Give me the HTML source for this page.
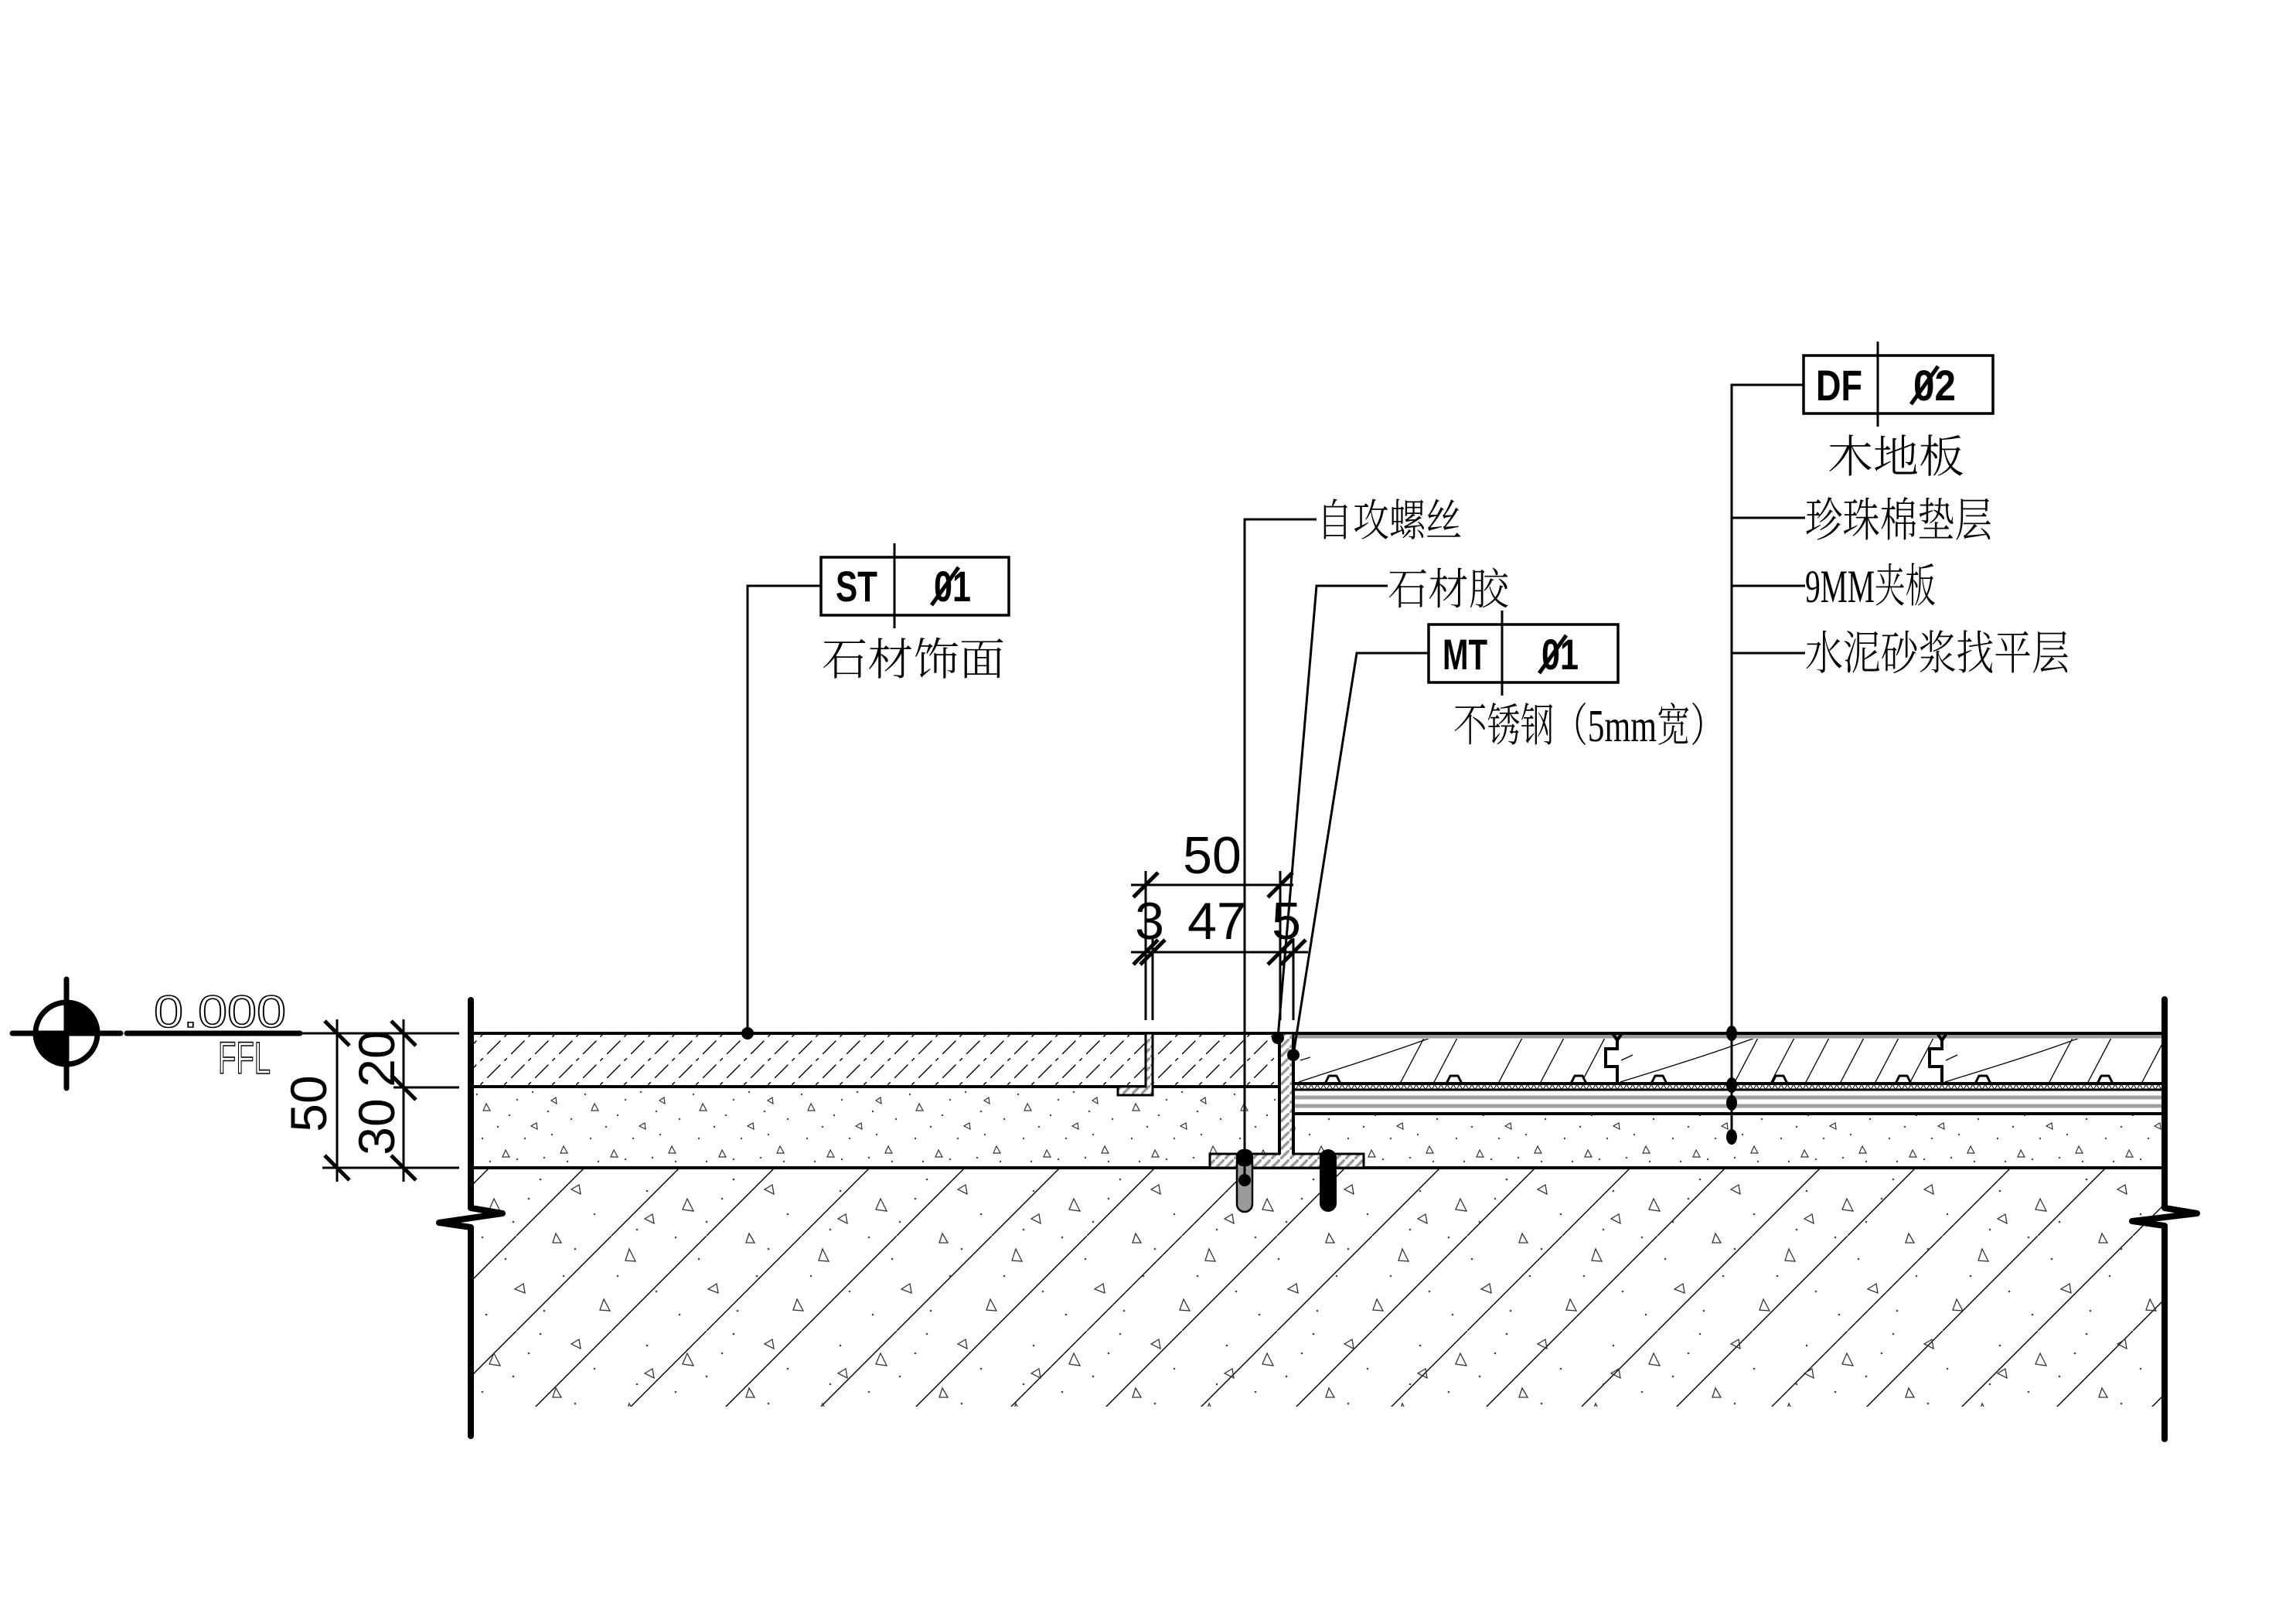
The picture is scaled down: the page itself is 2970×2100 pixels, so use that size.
<!DOCTYPE html>
<html><head><meta charset="utf-8">
<style>
html,body{margin:0;padding:0;background:#fff;}
svg{display:block;}
.cn{font-family:"Liberation Serif","Noto Serif CJK SC",serif;font-weight:300;}
.bx{font-family:"Liberation Sans",sans-serif;font-weight:bold;}
.dm{font-family:"Liberation Sans",sans-serif;}
</style></head><body>
<svg width="2970" height="2100" viewBox="0 0 2970 2100" xmlns="http://www.w3.org/2000/svg">
<defs>
<pattern id="stone" patternUnits="userSpaceOnUse" x="10" y="0" width="31" height="31">
 <line x1="-1" y1="32" x2="32" y2="-1" stroke="#000" stroke-width="1.4" stroke-dasharray="26 7 5 7"/>
</pattern>
<pattern id="base" patternUnits="userSpaceOnUse" x="53" y="0" width="123" height="123">
 <line x1="-1" y1="124" x2="124" y2="-1" stroke="#000" stroke-width="1.4"/>
</pattern>
<pattern id="tri" patternUnits="userSpaceOnUse" x="609" y="1511" width="250" height="200">
 <g fill="none" stroke="#333" stroke-width="1.3">
  <path d="M30,40 l-6,14 l14,2 z"/>
  <path d="M140,22 l-10,6 l12,6 z"/>
  <path d="M205,105 l-5,15 l13,1 z"/>
  <path d="M68,150 l-11,7 l13,5 z"/>
  <path d="M172,170 l-5,14 l13,1 z"/>
  <path d="M110,85 l-4,12 l11,0 z"/>
  <path d="M235,60 l-10,6 l12,6 z"/>
 </g>
 <g fill="#444">
  <circle cx="15" cy="90" r="1.3"/><circle cx="55" cy="70" r="1.3"/><circle cx="90" cy="15" r="1.3"/>
  <circle cx="120" cy="140" r="1.3"/><circle cx="160" cy="60" r="1.3"/><circle cx="228" cy="30" r="1.3"/>
  <circle cx="240" cy="160" r="1.3"/><circle cx="20" cy="190" r="1.3"/><circle cx="190" cy="140" r="1.3"/>
  <circle cx="95" cy="185" r="1.3"/><circle cx="215" cy="80" r="1.3"/><circle cx="45" cy="118" r="1.3"/>
  <circle cx="135" cy="105" r="1.3"/><circle cx="75" cy="40" r="1.3"/>
 </g>
</pattern>
<pattern id="scr" patternUnits="userSpaceOnUse" x="609" y="1408" width="140" height="100">
 <g fill="none" stroke="#333" stroke-width="1.2">
  <path d="M20,20 l-4,9 l9,0 z"/>
  <path d="M85,45 l-7,4 l8,4 z"/>
  <path d="M45,80 l-4,9 l9,0 z"/>
  <path d="M120,75 l-4,9 l9,0 z"/>
  <path d="M110,12 l-6,4 l7,4 z"/>
 </g>
 <g fill="#444">
  <circle cx="8" cy="8" r="1.2"/><circle cx="35" cy="50" r="1.2"/><circle cx="60" cy="15" r="1.2"/>
  <circle cx="70" cy="65" r="1.2"/><circle cx="95" cy="90" r="1.2"/><circle cx="130" cy="40" r="1.2"/>
  <circle cx="15" cy="65" r="1.2"/><circle cx="100" cy="30" r="1.2"/><circle cx="50" cy="35" r="1.2"/>
  <circle cx="125" cy="95" r="1.2"/><circle cx="25" cy="95" r="1.2"/><circle cx="80" cy="5" r="1.2"/>
  <circle cx="105" cy="60" r="1.2"/><circle cx="60" cy="92" r="1.2"/>
 </g>
</pattern>
<pattern id="gh" patternUnits="userSpaceOnUse" width="12" height="12">
 <rect width="12" height="12" fill="#fff"/>
 <line x1="-1" y1="13" x2="13" y2="-1" stroke="#9a9a9a" stroke-width="3.5"/>
</pattern>
<pattern id="foam" patternUnits="userSpaceOnUse" x="0" y="1403" width="8" height="7">
 <polyline points="0,0 4,7 8,0" fill="none" stroke="#000" stroke-width="1"/>
</pattern>
<clipPath id="woodclip"><rect x="1673" y="1344" width="1127" height="58"/></clipPath>
</defs>

<!-- base concrete -->
<rect x="609" y="1511" width="2191" height="309" fill="url(#base)"/>
<rect x="609" y="1511" width="2191" height="309" fill="url(#tri)"/>
<!-- screed -->
<rect x="609" y="1407" width="2191" height="104" fill="url(#scr)"/>
<!-- stone -->
<rect x="609" y="1337" width="1046" height="69" fill="url(#stone)"/>
<!-- wood area -->
<rect x="1673" y="1337" width="1127" height="104" fill="#fff"/>
<g clip-path="url(#woodclip)" fill="none" stroke="#000" stroke-width="1.3">
 <path d="M1680,1400 C1740,1380 1790,1365 1850,1343"/>
 <line x1="1811" y1="1402" x2="1842" y2="1343"/>
 <line x1="1854" y1="1402" x2="1885" y2="1343"/>
 <line x1="1938" y1="1402" x2="1969" y2="1343"/>
 <line x1="1992" y1="1402" x2="2023" y2="1343"/>
 <line x1="2045" y1="1402" x2="2076" y2="1343"/>
 <path d="M2096,1400 C2160,1380 2210,1365 2270,1343"/>
 <line x1="2243" y1="1402" x2="2274" y2="1343"/>
 <line x1="2290" y1="1402" x2="2321" y2="1343"/>
 <line x1="2335" y1="1402" x2="2366" y2="1343"/>
 <line x1="2380" y1="1402" x2="2411" y2="1343"/>
 <line x1="2425" y1="1402" x2="2456" y2="1343"/>
 <line x1="2470" y1="1402" x2="2501" y2="1343"/>
 <path d="M2516,1400 C2580,1380 2630,1365 2690,1343"/>
 <line x1="2650" y1="1402" x2="2681" y2="1343"/>
 <line x1="2700" y1="1402" x2="2731" y2="1343"/>
 <line x1="2770" y1="1402" x2="2801" y2="1343"/>
 <line x1="2112" y1="1365" x2="2097" y2="1372"/>
 <line x1="2532" y1="1365" x2="2517" y2="1372"/>
 <line x1="1695" y1="1368" x2="1682" y2="1372"/>
</g>
<!-- foam bumps -->
<g fill="#fff" stroke="#000" stroke-width="3" stroke-linejoin="round">
 <path d="M1714,1402 L1719,1392 L1729,1392 L1734,1402"/>
 <path d="M1871,1402 L1876,1392 L1886,1392 L1891,1402"/>
 <path d="M2032,1402 L2037,1392 L2047,1392 L2052,1402"/>
 <path d="M2136,1402 L2141,1392 L2151,1392 L2156,1402"/>
 <path d="M2292,1402 L2297,1392 L2307,1392 L2312,1402"/>
 <path d="M2452,1402 L2457,1392 L2467,1392 L2472,1402"/>
 <path d="M2555,1402 L2560,1392 L2570,1392 L2575,1402"/>
 <path d="M2713,1402 L2718,1392 L2728,1392 L2733,1402"/>
</g>
<!-- foam layer -->
<rect x="1673" y="1403" width="1127" height="7" fill="url(#foam)"/>
<line x1="1673" y1="1402" x2="2800" y2="1402" stroke="#000" stroke-width="4"/>
<line x1="1673" y1="1410" x2="2800" y2="1410" stroke="#000" stroke-width="3"/>
<line x1="1673" y1="1420" x2="2800" y2="1420" stroke="#a0a0a0" stroke-width="5"/>
<line x1="1673" y1="1431" x2="2800" y2="1431" stroke="#a0a0a0" stroke-width="5"/>
<line x1="1673" y1="1441" x2="2800" y2="1441" stroke="#000" stroke-width="4"/>
<line x1="1673" y1="1341" x2="2800" y2="1341" stroke="#9a9a9a" stroke-width="5"/>
<!-- joints -->
<g fill="none" stroke="#000" stroke-width="4" stroke-linejoin="miter">
 <path d="M2086,1337 L2092,1346 L2098,1337"/>
 <path d="M2092,1346 L2092,1357 L2077,1357 L2077,1380 L2092,1380 L2092,1402"/>
 <path d="M2506,1337 L2512,1346 L2518,1337"/>
 <path d="M2512,1346 L2512,1357 L2496,1357 L2496,1380 L2512,1380 L2512,1402"/>
</g>

<!-- layer lines -->
<g stroke="#000" stroke-width="4">
 <line x1="609" y1="1337" x2="2800" y2="1337"/>
 <line x1="609" y1="1406" x2="1655" y2="1406"/>
 <line x1="609" y1="1511" x2="2800" y2="1511"/>
</g>
<g stroke="#000" stroke-width="3">
 <line x1="388" y1="1337" x2="594" y2="1337"/>
 <line x1="509" y1="1407" x2="594" y2="1407"/>
 <line x1="417" y1="1511" x2="594" y2="1511"/>
</g>

<!-- profiles -->
<path d="M1482,1337 L1491,1337 L1491,1417 L1446,1417 L1446,1406 L1482,1406 Z" fill="url(#gh)" stroke="#000" stroke-width="3"/>
<path d="M1655,1337 L1673,1337 L1673,1493 L1764,1493 L1764,1511 L1565,1511 L1565,1493 L1655,1493 Z" fill="url(#gh)" stroke="#000" stroke-width="3"/>
<line x1="1655" y1="1337" x2="1655" y2="1493" stroke="#000" stroke-width="4"/>
<line x1="1673" y1="1343" x2="1673" y2="1493" stroke="#000" stroke-width="4"/>

<!-- screws -->
<rect x="1600" y="1492" width="20" height="76" rx="10" fill="#9a9a9a" stroke="#000" stroke-width="2.5"/>
<rect x="1599" y="1487" width="22" height="22" rx="9" fill="#000"/>
<rect x="1707" y="1487" width="22" height="81" rx="11" fill="#000"/>

<!-- walls -->
<g fill="none" stroke="#000" stroke-width="8" stroke-linecap="round" stroke-linejoin="round">
 <path d="M609,1294 L609,1563 L650,1570 L568,1582 L609,1588 L609,1858"/>
 <path d="M2800,1293 L2800,1563 L2842,1570 L2758,1580 L2800,1586 L2800,1862"/>
</g>

<!-- datum symbol -->
<circle cx="86" cy="1337" r="40" fill="#fff" stroke="#000" stroke-width="7"/>
<path d="M86,1337 L86,1297 A40,40 0 0 1 126,1337 Z" fill="#000"/>
<path d="M86,1337 L86,1377 A40,40 0 0 1 46,1337 Z" fill="#000"/>
<g stroke="#000" stroke-width="7" stroke-linecap="round">
 <line x1="16" y1="1337" x2="156" y2="1337"/>
 <line x1="86" y1="1267" x2="86" y2="1408"/>
 <line x1="164" y1="1337" x2="388" y2="1337"/>
</g>
<text class="dm" x="199" y="1329" font-size="58" textLength="171" lengthAdjust="spacingAndGlyphs" fill="none" stroke="#000" stroke-width="1.6">0.000</text>
<text class="dm" x="282" y="1389" font-size="58" textLength="68" lengthAdjust="spacingAndGlyphs" fill="none" stroke="#000" stroke-width="1.6">FFL</text>

<!-- left vertical dimensions -->
<g stroke="#000" stroke-width="3">
 <line x1="436" y1="1319" x2="436" y2="1529"/>
 <line x1="522" y1="1319" x2="522" y2="1529"/>
</g>
<g stroke="#000" stroke-width="5">
 <line x1="420" y1="1321" x2="452" y2="1353"/>
 <line x1="420" y1="1495" x2="452" y2="1527"/>
 <line x1="506" y1="1321" x2="538" y2="1353"/>
 <line x1="506" y1="1391" x2="538" y2="1423"/>
 <line x1="506" y1="1495" x2="538" y2="1527"/>
</g>
<text class="dm" font-size="66" text-anchor="middle" transform="translate(422,1428) rotate(-90)">50</text>
<text class="dm" font-size="66" text-anchor="middle" transform="translate(510,1458) rotate(-90)">30</text>
<text class="dm" font-size="66" text-anchor="middle" transform="translate(510,1370) rotate(-90)">20</text>

<!-- top horizontal dimensions -->
<g stroke="#000" stroke-width="3">
 <line x1="1463" y1="1145" x2="1673" y2="1145"/>
 <line x1="1463" y1="1232" x2="1692" y2="1232"/>
 <line x1="1482" y1="1127" x2="1482" y2="1320"/>
 <line x1="1491" y1="1214" x2="1491" y2="1320"/>
 <line x1="1656" y1="1127" x2="1656" y2="1320"/>
 <line x1="1673" y1="1214" x2="1673" y2="1320"/>
</g>
<g stroke="#000" stroke-width="5">
 <line x1="1466" y1="1161" x2="1498" y2="1129"/>
 <line x1="1640" y1="1161" x2="1672" y2="1129"/>
 <line x1="1466" y1="1248" x2="1498" y2="1216"/>
 <line x1="1475" y1="1248" x2="1507" y2="1216"/>
 <line x1="1640" y1="1248" x2="1672" y2="1216"/>
 <line x1="1657" y1="1248" x2="1689" y2="1216"/>
</g>
<text class="dm" x="1568" y="1130" font-size="68" text-anchor="middle">50</text>
<text class="dm" x="1574" y="1215" font-size="68" text-anchor="middle">47</text>
<text class="dm" x="1487" y="1215" font-size="68" text-anchor="middle">3</text>
<text class="dm" x="1664" y="1215" font-size="68" text-anchor="middle">5</text>

<!-- leaders -->
<g fill="none" stroke="#000" stroke-width="3">
 <polyline points="1062,758 967,758 967,1337"/>
 <polyline points="1703,672 1610,672 1610,1527"/>
 <polyline points="1795,758 1703,758 1653,1343"/>
 <polyline points="1848,845 1755,845 1673,1365"/>
 <polyline points="2333,498 2240,498 2240,1471"/>
 <line x1="2240" y1="670" x2="2335" y2="670"/>
 <line x1="2240" y1="758" x2="2335" y2="758"/>
 <line x1="2240" y1="845" x2="2335" y2="845"/>
</g>
<g fill="#000">
 <circle cx="967" cy="1337" r="8"/>
 <circle cx="1610" cy="1527" r="8"/>
 <circle cx="1653" cy="1343" r="8"/>
 <circle cx="1673" cy="1365" r="8"/>
 <ellipse cx="2240" cy="1337" rx="7" ry="10"/>
 <ellipse cx="2240" cy="1404" rx="7" ry="10"/>
 <ellipse cx="2240" cy="1427" rx="7" ry="10"/>
 <ellipse cx="2240" cy="1471" rx="7" ry="10"/>
</g>

<!-- tag boxes -->
<g fill="#fff" stroke="#000" stroke-width="3.5">
 <rect x="1062" y="721" width="243" height="75"/>
 <rect x="1848" y="808" width="245" height="75"/>
 <rect x="2333" y="460" width="245" height="75"/>
</g>
<g stroke="#000" stroke-width="3">
 <line x1="1157" y1="703" x2="1157" y2="813"/>
 <line x1="1943" y1="790" x2="1943" y2="900"/>
 <line x1="2429" y1="442" x2="2429" y2="552"/>
</g>
<text class="bx" x="1081" y="778" font-size="56" textLength="54" lengthAdjust="spacingAndGlyphs">ST</text>
<text class="bx" x="1208" y="778" font-size="56" textLength="48" lengthAdjust="spacingAndGlyphs">01</text>
<line x1="1205" y1="783" x2="1240" y2="734" stroke="#000" stroke-width="5"/>
<text class="bx" x="1866" y="866" font-size="56" textLength="58" lengthAdjust="spacingAndGlyphs">MT</text>
<text class="bx" x="1994" y="866" font-size="56" textLength="48" lengthAdjust="spacingAndGlyphs">01</text>
<line x1="1991" y1="871" x2="2026" y2="822" stroke="#000" stroke-width="5"/>
<text class="bx" x="2349" y="518" font-size="56" textLength="60" lengthAdjust="spacingAndGlyphs">DF</text>
<text class="bx" x="2475" y="518" font-size="56" textLength="55" lengthAdjust="spacingAndGlyphs">02</text>
<line x1="2472" y1="523" x2="2507" y2="474" stroke="#000" stroke-width="5"/>

<!-- labels -->
<text class="cn" x="1063" y="873" font-size="57" textLength="237" lengthAdjust="spacingAndGlyphs">石材饰面</text>
<text class="cn" x="1703" y="693" font-size="57" textLength="188" lengthAdjust="spacingAndGlyphs">自攻螺丝</text>
<text class="cn" x="1795" y="782" font-size="56" textLength="157" lengthAdjust="spacingAndGlyphs">石材胶</text>
<text class="cn" x="1880" y="959" font-size="59" textLength="350" lengthAdjust="spacingAndGlyphs">不锈钢（5mm宽）</text>
<text class="cn" x="2364" y="611" font-size="58" textLength="177" lengthAdjust="spacingAndGlyphs">木地板</text>
<text class="cn" x="2335" y="694" font-size="60" textLength="242" lengthAdjust="spacingAndGlyphs">珍珠棉垫层</text>
<text class="cn" x="2335" y="779" font-size="60" textLength="169" lengthAdjust="spacingAndGlyphs">9MM夹板</text>
<text class="cn" x="2335" y="866" font-size="60" textLength="342" lengthAdjust="spacingAndGlyphs">水泥砂浆找平层</text>
</svg>
</body></html>
